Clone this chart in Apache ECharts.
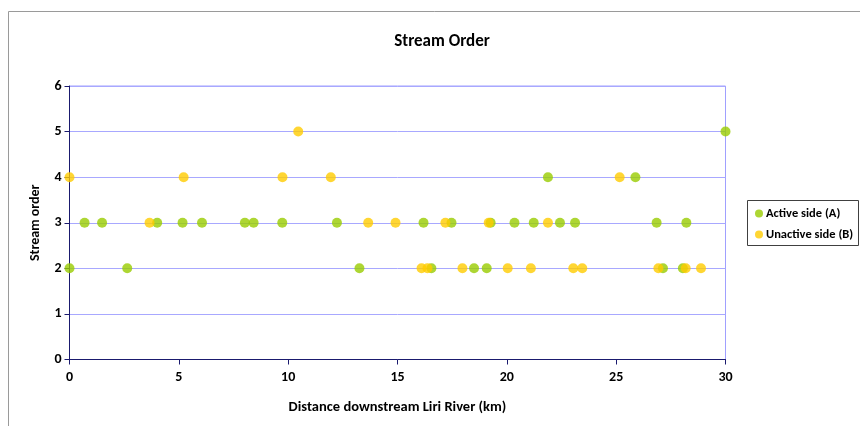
<!DOCTYPE html>
<html>
<head>
<meta charset="utf-8">
<script src="https://cdn.jsdelivr.net/npm/echarts@6/dist/echarts.min.js"></script>
<style>
  html, body { margin: 0; padding: 0; background: #fff; }
  #chart { width: 860px; height: 426px; }
</style>
</head>
<body>
<div id="chart"></div>
<script>
// Distance downstream (km) and stream order for each side of the river
var activeKm    = [0, 0.69, 1.49, 2.64, 4.01, 5.17, 6.06, 8.02, 8.42, 9.73, 12.23, 13.26, 16.19, 16.55, 17.47, 18.50, 19.08, 19.26, 20.35, 21.23, 21.88, 22.43, 23.12, 25.88, 26.85, 27.14, 28.05, 28.21, 30];
var activeOrder = [2, 3, 3, 2, 3, 3, 3, 3, 3, 3, 3, 2, 3, 2, 3, 2, 2, 3, 3, 3, 4, 3, 3, 4, 3, 2, 2, 3, 5];

var unactiveKm    = [0, 3.66, 5.22, 9.74, 10.46, 11.95, 13.66, 14.91, 16.10, 16.37, 17.19, 17.97, 19.17, 20.04, 21.10, 21.88, 23.04, 23.45, 25.16, 26.93, 28.18, 28.88];
var unactiveOrder = [4, 3, 4, 4, 5, 4, 3, 3, 2, 2, 3, 2, 3, 2, 2, 3, 2, 2, 4, 2, 2, 2];

var seriesNames = ['Active side (A)', 'Unactive side (B)'];
var xTicks = { min: 0, max: 30, step: 5 };
var yTicks = { min: 0, max: 6, step: 1 };

function pairs(xs, ys) {
  return xs.map(function (x, i) { return [x, ys[i]]; });
}

var FONT = "Carlito, 'Liberation Sans Narrow', 'Liberation Sans', sans-serif";
var AXIS_COLOR = '#1a1a6e';
var chart = echarts.init(document.getElementById('chart'), null, { renderer: 'canvas' });

chart.setOption({
  animation: false,
  backgroundColor: '#ffffff',
  title: {
    text: 'Stream Order',
    left: 437,
    top: 28,
    textAlign: 'center',
    textStyle: { fontFamily: FONT, fontSize: 17, fontWeight: 'bold', color: '#000' }
  },
  graphic: [
    { type: 'polyline', silent: true, z: -1,
      shape: { points: [[8.5, 500], [8.5, 11.5], [900, 11.5]] },
      style: { stroke: '#9a9a9a', lineWidth: 1, fill: null } },
    { type: 'rect', silent: true,
      shape: { x: 747.5, y: 200.5, width: 111, height: 45 },
      style: { stroke: '#404040', lineWidth: 1, fill: '#fff' } }
  ],
  legend: {
    orient: 'vertical',
    left: 750,
    top: 202,
    itemWidth: 8,
    itemHeight: 8,
    itemGap: 8,
    icon: 'circle',
    textStyle: { fontFamily: FONT, fontSize: 12.5, fontWeight: 'bold', color: '#000', padding: [0, 0, 0, -2] },
    data: seriesNames
  },
  grid: {
    left: 69.5,
    right: 134.5,
    top: 86,
    bottom: 66.5,
    show: true,
    borderColor: '#a0a0ff',
    borderWidth: 1,
    backgroundColor: 'transparent'
  },
  xAxis: {
    type: 'value',
    min: xTicks.min,
    max: xTicks.max,
    interval: xTicks.step,
    name: 'Distance downstream Liri River (km)',
    nameLocation: 'middle',
    nameGap: 40,
    nameTextStyle: { fontFamily: FONT, fontSize: 14.5, fontWeight: 'bold', color: '#000' },
    axisLine: { show: true, lineStyle: { color: AXIS_COLOR, width: 1 } },
    axisTick: { show: true, inside: false, length: 5, lineStyle: { color: AXIS_COLOR } },
    axisLabel: { fontFamily: FONT, fontSize: 14, fontWeight: 'bold', color: '#000', margin: 11 },
    splitLine: { show: false }
  },
  yAxis: {
    type: 'value',
    min: yTicks.min,
    max: yTicks.max,
    interval: yTicks.step,
    name: 'Stream order',
    nameLocation: 'middle',
    nameGap: 27,
    nameRotate: 90,
    nameTextStyle: { fontFamily: FONT, fontSize: 14, fontWeight: 'bold', color: '#000' },
    axisLine: { show: true, lineStyle: { color: AXIS_COLOR, width: 1 } },
    axisTick: { show: true, inside: false, length: 5, lineStyle: { color: AXIS_COLOR } },
    axisLabel: { fontFamily: FONT, fontSize: 14, fontWeight: 'bold', color: '#000', margin: 8 },
    splitLine: { show: true, lineStyle: { color: '#a8a8ff', width: 1 } }
  },
  series: [
    {
      name: seriesNames[0],
      type: 'scatter',
      symbol: 'circle',
      symbolSize: 10,
      itemStyle: { color: '#99cc00' },
      data: pairs(activeKm, activeOrder)
    },
    {
      name: seriesNames[1],
      type: 'scatter',
      symbol: 'circle',
      symbolSize: 10,
      itemStyle: { color: '#ffcc00' },
      data: pairs(unactiveKm, unactiveOrder)
    }
  ]
});
</script>
</body>
</html>
